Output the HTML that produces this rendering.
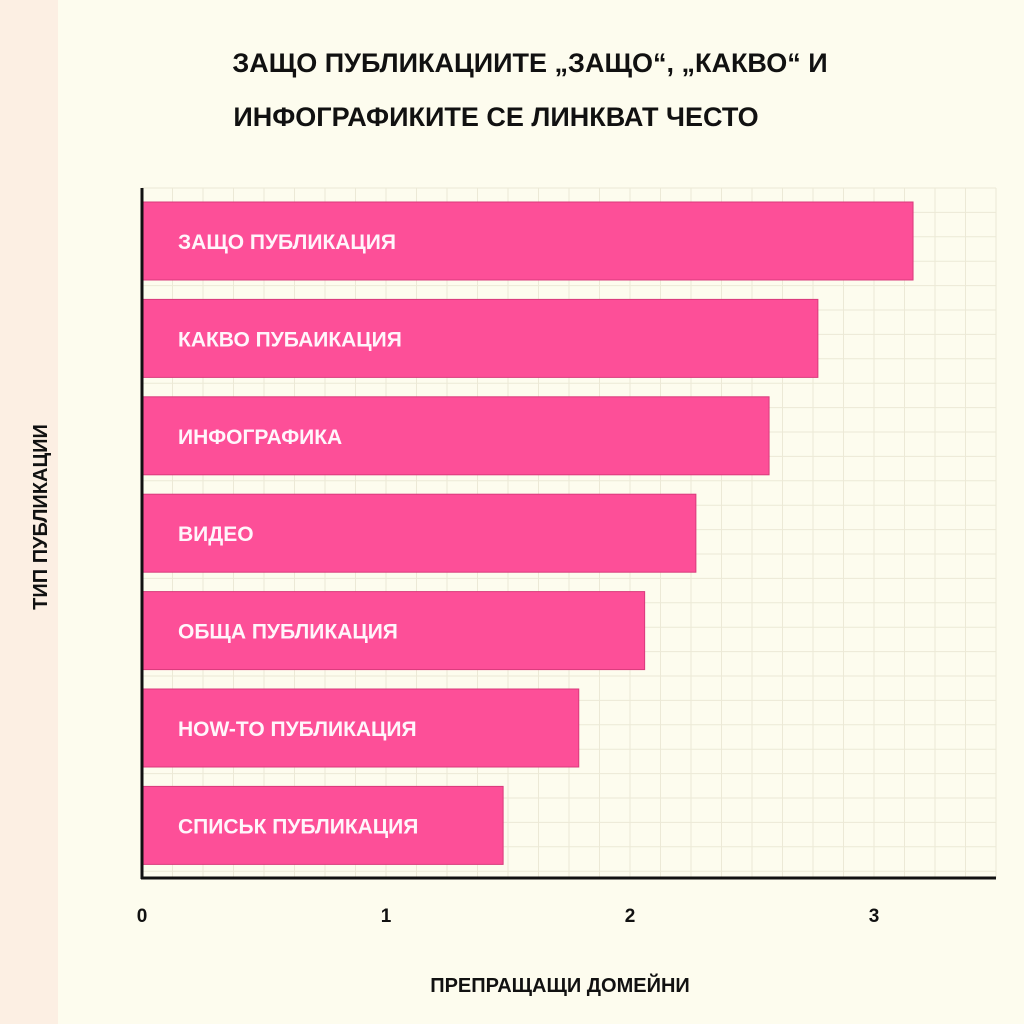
<!DOCTYPE html>
<html><head><meta charset="utf-8"><style>
html,body{margin:0;padding:0;width:1024px;height:1024px;overflow:hidden;background:#fdfcee;}
svg text{font-family:"Liberation Sans","DejaVu Sans",sans-serif;font-weight:bold;}
</style></head><body>
<svg id="chart" width="1024" height="1024" xmlns="http://www.w3.org/2000/svg">
<rect x="0" y="0" width="1024" height="1024" fill="#fdfcee"/>
<rect x="0" y="0" width="58" height="1024" fill="#fcefe3"/>
<g id="grid"></g>
<g id="bars"></g>
<line x1="142" y1="188" x2="142" y2="879" stroke="#111" stroke-width="3"/>
<line x1="141" y1="878" x2="996" y2="878" stroke="#111" stroke-width="3"/>
<g id="ticks"></g>
<text x="530" y="72" text-anchor="middle" font-size="27" fill="#111">ЗАЩО ПУБЛИКАЦИИТЕ „ЗАЩО“, „КАКВО“ И</text>
<text x="496" y="126" text-anchor="middle" font-size="27" fill="#111">ИНФОГРАФИКИТЕ СЕ ЛИНКВАТ ЧЕСТО</text>
<text x="560" y="992" text-anchor="middle" font-size="20" fill="#111">ПРЕПРАЩАЩИ ДОМЕЙНИ</text>
<text transform="translate(47,517) rotate(-90)" text-anchor="middle" font-size="20" fill="#111">ТИП ПУБЛИКАЦИИ</text>
</svg>
<script>
const categories = ["ЗАЩО ПУБЛИКАЦИЯ","КАКВО ПУБАИКАЦИЯ","ИНФОГРАФИКА","ВИДЕО","ОБЩА ПУБЛИКАЦИЯ","HOW-TO ПУБЛИКАЦИЯ","СПИСЬК ПУБЛИКАЦИЯ"];
const values = [3.16, 2.77, 2.57, 2.27, 2.06, 1.79, 1.48];
const tickValues = [0, 1, 2, 3];
const tickLabels = ["0", "1", "2", "3"];

const NS = "http://www.w3.org/2000/svg";
const x0 = 142, unit = 244, yTop = 202, pitch = 97.4, barH = 78;
function xScale(v){ return x0 + v * unit; }
function yScale(i){ return yTop + i * pitch; }

const grid = document.getElementById('grid');
for (let gx = 142; gx <= 996; gx += 30.5) {
  const l = document.createElementNS(NS, 'line');
  l.setAttribute('x1', gx); l.setAttribute('x2', gx); l.setAttribute('y1', 188); l.setAttribute('y2', 878);
  l.setAttribute('stroke', '#ece9d6'); l.setAttribute('stroke-width', '1');
  
  
  grid.appendChild(l);
}
for (let gy = 188; gy <= 878; gy += 24.4) {
  const l = document.createElementNS(NS, 'line');
  l.setAttribute('x1', 142); l.setAttribute('x2', 996); l.setAttribute('y1', gy); l.setAttribute('y2', gy);
  l.setAttribute('stroke', '#ece9d6'); l.setAttribute('stroke-width', '1');
  
  
  grid.appendChild(l);
}

const bars = document.getElementById('bars');
categories.forEach((c, i) => {
  const r = document.createElementNS(NS, 'rect');
  r.setAttribute('x', xScale(0)); r.setAttribute('y', yScale(i));
  r.setAttribute('width', xScale(values[i]) - xScale(0)); r.setAttribute('height', barH);
  r.setAttribute('fill', '#fd4f98'); r.setAttribute('stroke', '#d93a7c'); r.setAttribute('stroke-width', '1');
  
  
  bars.appendChild(r);
  const t = document.createElementNS(NS, 'text');
  t.setAttribute('x', 178); t.setAttribute('y', yScale(i) + barH / 2 + 8);
  t.setAttribute('font-size', '21'); t.setAttribute('fill', '#fff5fb');
  t.textContent = c;
  
  
  bars.appendChild(t);
});

const ticks = document.getElementById('ticks');
tickValues.forEach((v, i) => {
  const t = document.createElementNS(NS, 'text');
  t.setAttribute('x', xScale(v)); t.setAttribute('y', 922);
  t.setAttribute('text-anchor', 'middle'); t.setAttribute('font-size', '19'); t.setAttribute('fill', '#111');
  t.textContent = tickLabels[i];
  
  
  ticks.appendChild(t);
});
</script>
</body></html>
